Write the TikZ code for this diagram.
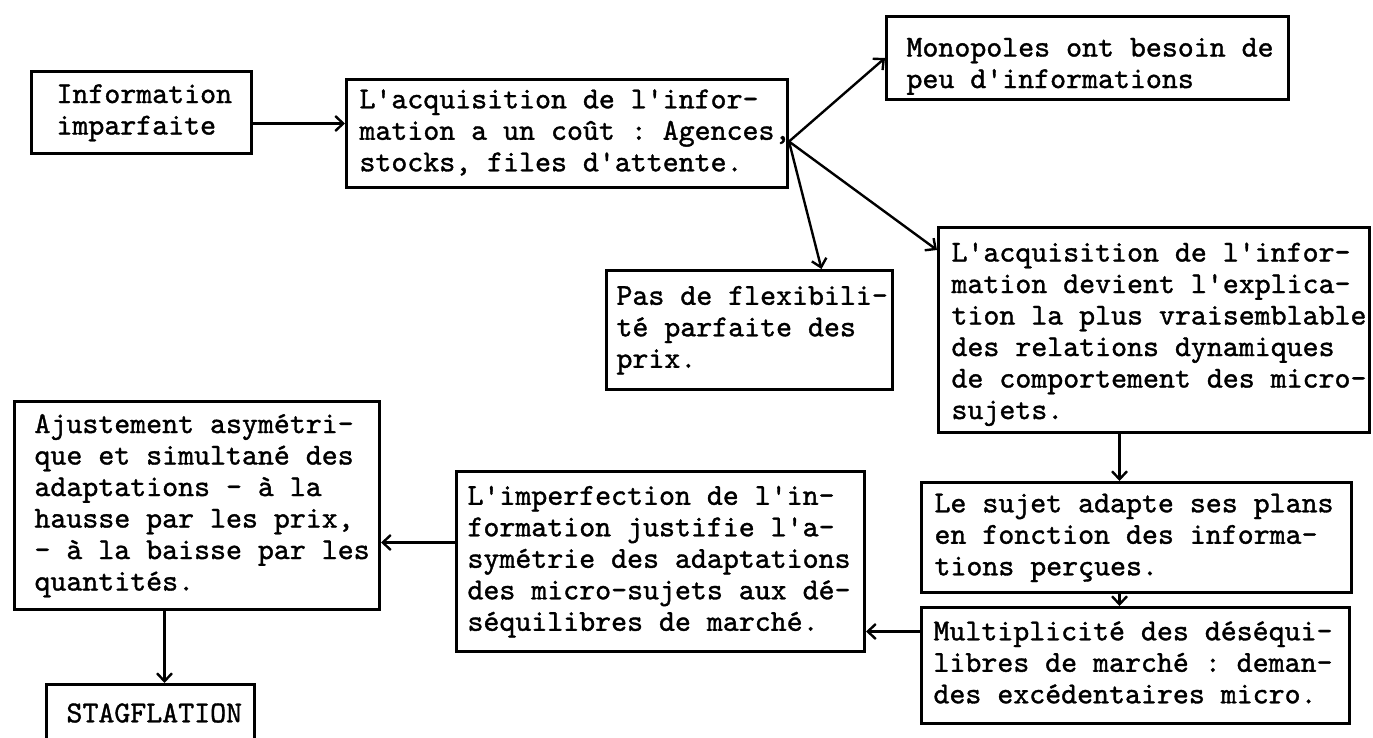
\documentclass[tikz,border=0pt]{standalone}
\usepackage{fontspec}
\setmonofont{lmmono10-regular.otf}[FakeBold=1.2]
\usetikzlibrary{arrows.meta}
\newcommand\lns[2][0bp]{\spaceskip=15.96bp\relax\xspaceskip=15.96bp\relax\raisebox{-#1}[\height][\depth]{\begin{tabular}{@{}l@{}}#2\end{tabular}}}
\begin{document}
\begin{tikzpicture}[x=1bp,y=-1bp,
  bx/.style={draw, line width=3bp, inner ysep=0pt, anchor=north west, align=left,
    font=\ttfamily\fontsize{30.4bp}{31.5bp}\selectfont\frenchspacing},
  arr/.style={line width=2.4bp, -{Straight Barb[length=8bp,width=15bp,line width=2.4bp]}}]
\fill[white] (0,0) rectangle (1373,737);
\useasboundingbox (0,0) rectangle (1373,737);

\node[bx, inner xsep=25bp, text width=170bp, minimum height=82bp] (info) at (30,70) {\lns{Information\\imparfaite}};
\node[bx, inner xsep=13bp, text width=415bp, minimum height=108bp] (acq1) at (345,78) {\lns{L'acquisition de l'infor-\\mation a un coût : Agences,\\stocks, files d'attente.}};
\node[bx, inner xsep=20bp, text width=362bp, minimum height=83bp] (mono) at (885,15) {\lns[8bp]{Monopoles ont besoin de\\peu d'informations}};
\node[bx, inner xsep=10bp, text width=266bp, minimum height=119bp] (pas) at (605,269) {\lns{Pas de flexibili-\\té parfaite des\\prix.}};
\node[bx, inner xsep=13bp, text width=405bp, minimum height=205bp] (acq2) at (937,226) {\lns[4bp]{L'acquisition de l'infor-\\mation devient l'explica-\\tion la plus vraisemblable\\des relations dynamiques\\de comportement des micro-\\sujets.}};
\node[bx, inner xsep=20bp, text width=325bp, minimum height=208bp] (ajust) at (13,400) {\lns{Ajustement asymétri-\\que et simultané des\\adaptations - à la\\hausse par les prix,\\- à la baisse par les\\quantités.}};
\node[bx, inner xsep=11bp, text width=386bp, minimum height=180bp] (imperf) at (455,470) {\lns{L'imperfection de l'in-\\formation justifie l'a-\\symétrie des adaptations\\des micro-sujets aux dé-\\séquilibres de marché.}};
\node[bx, inner xsep=13bp, text width=404bp, minimum height=110bp] (sujet) at (920,481) {\lns{Le sujet adapte ses plans\\en fonction des informa-\\tions perçues.}};
\node[bx, inner xsep=12bp, text width=404bp, minimum height=116bp] (multi) at (920,606) {\lns{Multiplicité des déséqui-\\libres de marché : deman-\\des excédentaires micro.}};
\node[bx, inner xsep=20bp, text width=168bp, minimum height=63bp] (stag) at (45,683) {\lns{STAGFLATION}};

\coordinate (p1) at ([yshift=-11bp]info.east);
\draw[arr] (p1) -- (p1 -| acq1.west);
\coordinate (hub) at ([yshift=-8bp]acq1.east);
\draw[arr] (hub) -- (mono.west);
\draw[arr] (hub) -- ([xshift=72bp]pas.north);
\draw[arr] (hub) -- ([yshift=80bp]acq2.west);
\coordinate (p2) at ([xshift=-34.5bp]acq2.south);
\draw[arr] (p2) -- (p2 |- sujet.north);
\coordinate (p3) at ([xshift=-17bp]sujet.south);
\draw[arr] (p3) -- (p3 |- multi.north);
\coordinate (p4) at ([yshift=34bp]multi.west);
\draw[arr] (p4) -- (p4 -| imperf.east);
\coordinate (p5) at ([yshift=19bp]imperf.west);
\draw[arr] (p5) -- (p5 -| ajust.east);
\coordinate (p6) at ([xshift=-32.5bp]ajust.south);
\draw[arr] (p6) -- (p6 |- stag.north);
\end{tikzpicture}
\end{document}
